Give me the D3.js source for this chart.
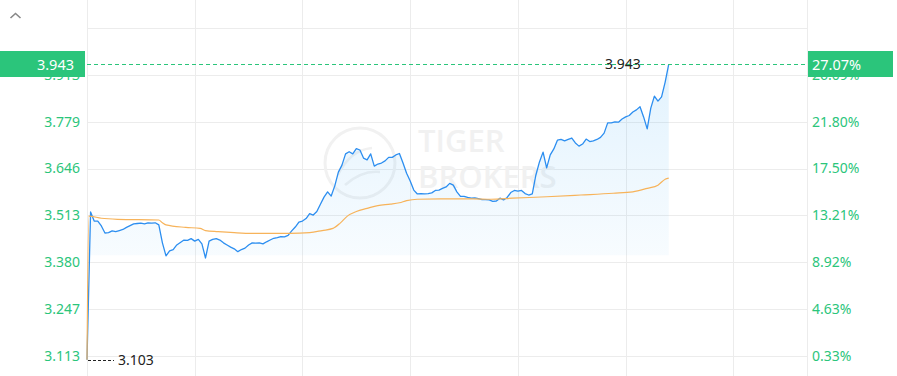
<!DOCTYPE html>
<html>
<head>
<meta charset="utf-8">
<script src="https://cdn.jsdelivr.net/npm/d3@7"></script>
<style>
  body { margin: 0; background: #fff; }
  svg { display: block; font-family: "Noto Sans", sans-serif; }
</style>
</head>
<body>
<script>
// taille de la fenêtre
var w = 897, h = 376

// cours relevé toutes les 2 minutes depuis l'ouverture
const priceStep = 2
const prices = [
  3.103, 3.523, 3.497, 3.497, 3.483, 3.463, 3.464, 3.469, 3.467, 3.470,
  3.473, 3.479, 3.484, 3.489, 3.490, 3.491, 3.489, 3.492, 3.491, 3.492,
  3.486, 3.435, 3.398, 3.412, 3.416, 3.429, 3.436, 3.443, 3.442, 3.447,
  3.440, 3.445, 3.432, 3.392, 3.440, 3.445, 3.447, 3.443, 3.435, 3.429,
  3.423, 3.418, 3.410, 3.416, 3.420, 3.429, 3.435, 3.434, 3.435, 3.432,
  3.438, 3.443, 3.448, 3.450, 3.453, 3.452, 3.456, 3.469, 3.480, 3.494,
  3.497, 3.504, 3.518, 3.514, 3.524, 3.545, 3.565, 3.580, 3.568, 3.597,
  3.636, 3.656, 3.688, 3.694, 3.688, 3.703, 3.699, 3.676, 3.671, 3.688,
  3.653, 3.659, 3.662, 3.668, 3.678, 3.678, 3.685, 3.689, 3.662, 3.633,
  3.611, 3.585, 3.574, 3.575, 3.574, 3.575, 3.577, 3.584, 3.585, 3.590,
  3.594, 3.604, 3.599, 3.580, 3.567, 3.567, 3.564, 3.562, 3.563, 3.561,
  3.558, 3.558, 3.557, 3.553, 3.554, 3.562, 3.557, 3.564, 3.578, 3.584,
  3.582, 3.584, 3.575, 3.571, 3.574, 3.628, 3.665, 3.693, 3.648, 3.685,
  3.702, 3.727, 3.729, 3.725, 3.729, 3.733, 3.719, 3.710, 3.716, 3.730,
  3.723, 3.725, 3.729, 3.735, 3.747, 3.776, 3.776, 3.779, 3.778, 3.787,
  3.793, 3.797, 3.807, 3.813, 3.822, 3.793, 3.759, 3.818, 3.852, 3.838,
  3.850, 3.892, 3.943
]

// prix moyen (minute, valeur)
const avgMinutes = [0, 1, 8, 17, 40, 42, 44, 55, 63, 66, 73, 82, 92, 113, 124, 131, 137, 141, 145,
  150, 156, 162, 169, 174, 178, 184, 197, 215, 225, 237, 256, 275, 293, 304, 312, 318, 322, 324]
const avgPrices = [3.103, 3.511, 3.505, 3.502, 3.500, 3.492, 3.486, 3.479, 3.476, 3.470, 3.467, 3.464,
  3.462, 3.462, 3.464, 3.470, 3.476, 3.491, 3.511, 3.524, 3.533, 3.541, 3.545, 3.549, 3.555, 3.559,
  3.560, 3.560, 3.559, 3.562, 3.566, 3.571, 3.576, 3.580, 3.590, 3.599, 3.616, 3.619]

const prevClose = 3.103
const sessionMinutes = 401
const xGrid = [0, 60, 120, 180, 240, 300, 360, 401]
const yTicks = [3.11335, 3.24656, 3.37976, 3.51297, 3.64617, 3.77938, 3.91258, 4.04579]
const fillBase = 3.40

var green = "#2bc57b", blue = "#2c8ef0", orange = "#f7b35a"

var x = d3.scaleLinear().domain([0, sessionMinutes]).range([87, 807])
var y = d3.scaleLinear().domain([yTicks[0], yTicks[yTicks.length - 1]]).range([356, 28])

var pts = prices.map(function(p, i) { return { m: i * priceStep, v: p } })
var avg = avgMinutes.map(function(m, i) { return { m: m, v: avgPrices[i] } })

var svg = d3.select("body").append("svg")
  .attr("width", w)
  .attr("height", h)

// dégradé sous la courbe
var grad = svg.append("defs").append("linearGradient")
  .attr("id", "fill")
  .attr("gradientUnits", "userSpaceOnUse")
  .attr("x1", 0).attr("x2", 0)
  .attr("y1", y(d3.max(prices))).attr("y2", y(fillBase))
grad.append("stop").attr("offset", 0).attr("stop-color", "#3caaf5").attr("stop-opacity", 0.15)
grad.append("stop").attr("offset", 1).attr("stop-color", "#3caaf5").attr("stop-opacity", 0.04)

// grille
svg.append("g").selectAll("line")
  .data(yTicks)
  .enter().append("line")
  .attr("x1", 87).attr("x2", 807)
  .attr("y1", function(d) { return Math.round(y(d)) + 0.5 })
  .attr("y2", function(d) { return Math.round(y(d)) + 0.5 })
  .attr("stroke", "#ececec")

svg.append("g").selectAll("line")
  .data(xGrid)
  .enter().append("line")
  .attr("x1", function(d) { return Math.round(x(d)) + 0.5 })
  .attr("x2", function(d) { return Math.round(x(d)) + 0.5 })
  .attr("y1", 0).attr("y2", h)
  .attr("stroke", "#ececec")

// filigrane
var wm = svg.append("g").attr("fill", "none").attr("stroke", "#f1f1f1")
wm.append("circle").attr("cx", 360).attr("cy", 163).attr("r", 35).attr("stroke-width", 3)
wm.append("path").attr("d", "M338,175 Q350,150 372,148 M345,185 Q362,170 380,172").attr("stroke-width", 2.5)
svg.append("text").attr("x", 418).attr("y", 152).text("TIGER")
  .attr("font-family", "Open Sans").attr("font-weight", 600).attr("font-size", 31).attr("fill", "#f1f1f1")
svg.append("text").attr("x", 418).attr("y", 188).text("BROKERS")
  .attr("font-family", "Open Sans").attr("font-weight", 600).attr("font-size", 31).attr("fill", "#f1f1f1")

// aire + courbes
svg.append("path")
  .datum(pts.slice(1))
  .attr("fill", "url(#fill)")
  .attr("d", d3.area()
    .x(function(d) { return x(d.m) })
    .y0(y(fillBase))
    .y1(function(d) { return y(d.v) }))

svg.append("path")
  .datum(pts)
  .attr("fill", "none")
  .attr("stroke", blue)
  .attr("stroke-width", 1.3)
  .attr("stroke-linejoin", "round")
  .attr("d", d3.line().x(function(d) { return x(d.m) }).y(function(d) { return y(d.v) }))

svg.append("path")
  .datum(avg)
  .attr("fill", "none")
  .attr("stroke", orange)
  .attr("stroke-width", 1.2)
  .attr("d", d3.line().curve(d3.curveMonotoneX).x(function(d) { return x(d.m) }).y(function(d) { return y(d.v) }))

// étiquettes des axes
var fmt = d3.format(".3f"), pct = d3.format(".2%")
var labels = yTicks.slice(0, yTicks.length - 1)

svg.append("g").selectAll("text")
  .data(labels)
  .enter().append("text")
  .attr("x", 80)
  .attr("y", function(d) { return y(d) })
  .attr("dy", "0.35em")
  .attr("text-anchor", "end")
  .attr("font-size", 14)
  .attr("fill", green)
  .text(function(d) { return fmt(d) })

svg.append("g").selectAll("text")
  .data(labels)
  .enter().append("text")
  .attr("x", 812)
  .attr("y", function(d) { return y(d) })
  .attr("dy", "0.35em")
  .attr("font-size", 14)
  .attr("fill", green)
  .text(function(d) { return pct(d / prevClose - 1) })

// dernier cours
var last = pts[pts.length - 1]
var ly = Math.round(y(last.v)) + 0.5
svg.append("line")
  .attr("x1", 87).attr("x2", 807)
  .attr("y1", ly).attr("y2", ly)
  .attr("stroke", green)
  .attr("stroke-dasharray", "4,3")

svg.append("rect").attr("x", 0).attr("y", ly - 13.5).attr("width", 85).attr("height", 26).attr("fill", green)
svg.append("rect").attr("x", 808).attr("y", ly - 13.5).attr("width", 85).attr("height", 26).attr("fill", green)
svg.append("text").attr("x", 74).attr("y", ly).attr("dy", "0.35em").attr("text-anchor", "end")
  .attr("font-size", 14.5).attr("fill", "#fff").text(fmt(last.v))
svg.append("text").attr("x", 812).attr("y", ly).attr("dy", "0.35em")
  .attr("font-size", 14.5).attr("fill", "#fff").text(pct(last.v / prevClose - 1))

// plus haut / plus bas
var hi = pts[d3.maxIndex(pts, function(d) { return d.v })]
var lo = pts[d3.minIndex(pts, function(d) { return d.v })]
svg.append("text").attr("x", x(hi.m) - 28).attr("y", y(hi.v)).attr("dy", "0.35em")
  .attr("text-anchor", "end").attr("font-size", 14).attr("fill", "#222").text(fmt(hi.v))
svg.append("line")
  .attr("x1", x(lo.m) + 1).attr("x2", x(lo.m) + 27)
  .attr("y1", Math.round(y(lo.v)) + 0.5).attr("y2", Math.round(y(lo.v)) + 0.5)
  .attr("stroke", "#222").attr("stroke-dasharray", "3,2")
svg.append("text").attr("x", x(lo.m) + 31).attr("y", y(lo.v)).attr("dy", "0.35em")
  .attr("font-size", 14).attr("fill", "#222").text(fmt(lo.v))

// chevron en haut à gauche
svg.append("path")
  .attr("d", "M10.5,18 L15.5,13.5 L20.5,18")
  .attr("fill", "none").attr("stroke", "#888").attr("stroke-width", 1.6)
</script>
</body>
</html>
